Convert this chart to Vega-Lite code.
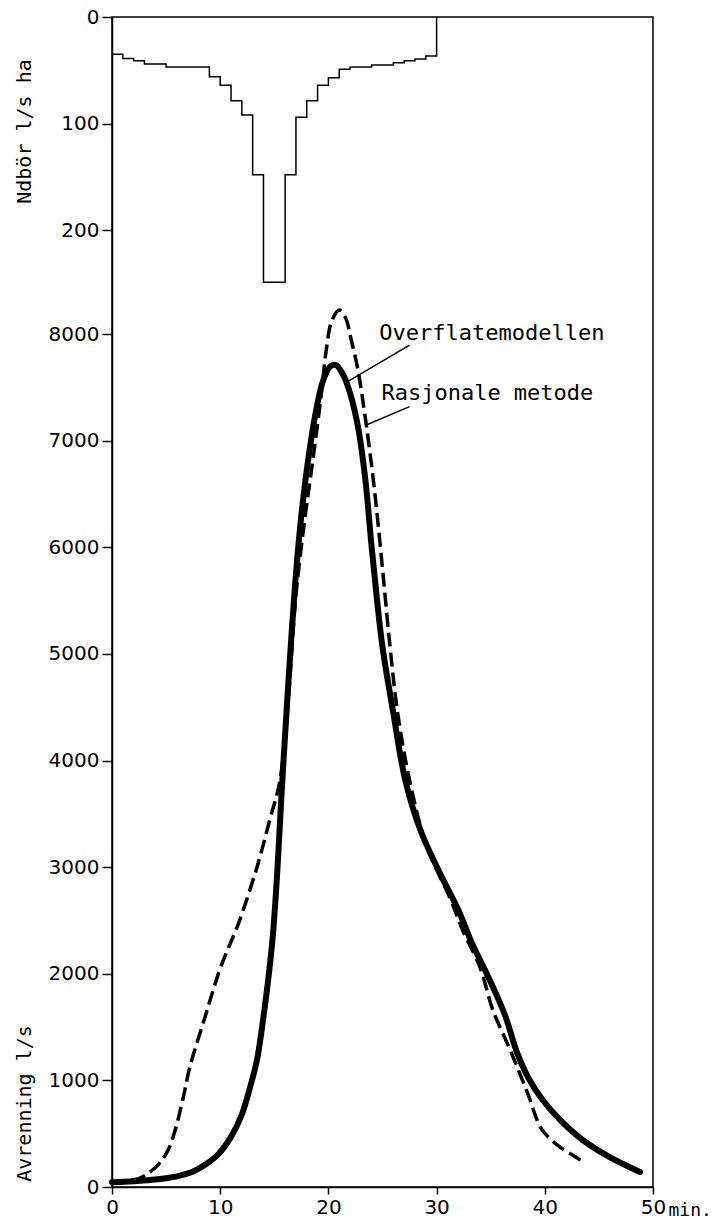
{
  "$schema": "https://vega.github.io/schema/vega-lite/v6.json",
  "autosize": "none",
  "width": 541,
  "height": 1170,
  "padding": {"left": 112, "top": 17, "right": 66, "bottom": 38},
  "background": "white",
  "config": {
    "view": {"stroke": "black", "strokeWidth": 1.5},
    "axis": {
      "grid": false,
      "domainColor": "black",
      "domainWidth": 1.5,
      "tickColor": "black",
      "tickWidth": 1.5,
      "labelColor": "black",
      "titleColor": "black",
      "labelFont": "DejaVu Sans",
      "labelFontSize": 20,
      "titleFont": "DejaVu Sans Mono",
      "titleFontSize": 20,
      "titleFontWeight": "normal"
    }
  },
  "datasets": {
    "rain": [
      {"t": 0, "r": 35},
      {"t": 1, "r": 39},
      {"t": 2, "r": 41},
      {"t": 3, "r": 44},
      {"t": 5, "r": 47},
      {"t": 9, "r": 56},
      {"t": 10, "r": 64},
      {"t": 11, "r": 78.5},
      {"t": 12, "r": 92},
      {"t": 13, "r": 148},
      {"t": 14, "r": 249},
      {"t": 16, "r": 148},
      {"t": 17, "r": 94},
      {"t": 18, "r": 78.5},
      {"t": 19, "r": 64},
      {"t": 20, "r": 57},
      {"t": 21, "r": 49},
      {"t": 22, "r": 47},
      {"t": 24, "r": 45},
      {"t": 26, "r": 43},
      {"t": 27, "r": 41},
      {"t": 28, "r": 39.5},
      {"t": 29, "r": 36.5},
      {"t": 30, "r": 0}
    ],
    "runoff": [
      {"model": "Overflatemodellen", "t": 0, "q": 45},
      {"model": "Overflatemodellen", "t": 2, "q": 55},
      {"model": "Overflatemodellen", "t": 4, "q": 70},
      {"model": "Overflatemodellen", "t": 6, "q": 100},
      {"model": "Overflatemodellen", "t": 7.5, "q": 145},
      {"model": "Overflatemodellen", "t": 8.7, "q": 215},
      {"model": "Overflatemodellen", "t": 9.8, "q": 305},
      {"model": "Overflatemodellen", "t": 11.0, "q": 470},
      {"model": "Overflatemodellen", "t": 12.0, "q": 680},
      {"model": "Overflatemodellen", "t": 12.8, "q": 950},
      {"model": "Overflatemodellen", "t": 13.4, "q": 1191},
      {"model": "Overflatemodellen", "t": 14.0, "q": 1595},
      {"model": "Overflatemodellen", "t": 14.5, "q": 2000},
      {"model": "Overflatemodellen", "t": 14.9, "q": 2400},
      {"model": "Overflatemodellen", "t": 15.3, "q": 3000},
      {"model": "Overflatemodellen", "t": 15.6, "q": 3564},
      {"model": "Overflatemodellen", "t": 16.1, "q": 4409},
      {"model": "Overflatemodellen", "t": 16.6, "q": 5197},
      {"model": "Overflatemodellen", "t": 17.0, "q": 5750},
      {"model": "Overflatemodellen", "t": 17.5, "q": 6300},
      {"model": "Overflatemodellen", "t": 18.1, "q": 6800},
      {"model": "Overflatemodellen", "t": 18.8, "q": 7250},
      {"model": "Overflatemodellen", "t": 19.5, "q": 7560},
      {"model": "Overflatemodellen", "t": 20.2, "q": 7700},
      {"model": "Overflatemodellen", "t": 20.7, "q": 7710},
      {"model": "Overflatemodellen", "t": 21.3, "q": 7630},
      {"model": "Overflatemodellen", "t": 21.9, "q": 7480},
      {"model": "Overflatemodellen", "t": 22.7, "q": 7150},
      {"model": "Overflatemodellen", "t": 23.4, "q": 6650},
      {"model": "Overflatemodellen", "t": 24.0, "q": 6000},
      {"model": "Overflatemodellen", "t": 24.5, "q": 5500},
      {"model": "Overflatemodellen", "t": 25.0, "q": 5065},
      {"model": "Overflatemodellen", "t": 26.0, "q": 4446},
      {"model": "Overflatemodellen", "t": 27.1, "q": 3818},
      {"model": "Overflatemodellen", "t": 28.5, "q": 3349},
      {"model": "Overflatemodellen", "t": 30.3, "q": 2945},
      {"model": "Overflatemodellen", "t": 32.0, "q": 2600},
      {"model": "Overflatemodellen", "t": 33.3, "q": 2280},
      {"model": "Overflatemodellen", "t": 34.5, "q": 2030},
      {"model": "Overflatemodellen", "t": 35.5, "q": 1810},
      {"model": "Overflatemodellen", "t": 36.4, "q": 1590},
      {"model": "Overflatemodellen", "t": 37.4, "q": 1270},
      {"model": "Overflatemodellen", "t": 38.5, "q": 1020},
      {"model": "Overflatemodellen", "t": 39.8, "q": 816},
      {"model": "Overflatemodellen", "t": 41.5, "q": 620},
      {"model": "Overflatemodellen", "t": 43.5, "q": 441},
      {"model": "Overflatemodellen", "t": 46.0, "q": 280},
      {"model": "Overflatemodellen", "t": 48.8, "q": 141},
      {"model": "Rasjonale metode", "t": 0, "q": 45},
      {"model": "Rasjonale metode", "t": 2.5, "q": 80},
      {"model": "Rasjonale metode", "t": 3.5, "q": 140},
      {"model": "Rasjonale metode", "t": 4.4, "q": 225},
      {"model": "Rasjonale metode", "t": 5.2, "q": 350},
      {"model": "Rasjonale metode", "t": 5.8, "q": 520},
      {"model": "Rasjonale metode", "t": 6.5, "q": 800},
      {"model": "Rasjonale metode", "t": 7.2, "q": 1126},
      {"model": "Rasjonale metode", "t": 8.6, "q": 1595},
      {"model": "Rasjonale metode", "t": 10.0, "q": 2050},
      {"model": "Rasjonale metode", "t": 11.7, "q": 2476},
      {"model": "Rasjonale metode", "t": 13.4, "q": 3000},
      {"model": "Rasjonale metode", "t": 14.6, "q": 3450},
      {"model": "Rasjonale metode", "t": 15.4, "q": 3750},
      {"model": "Rasjonale metode", "t": 15.9, "q": 4100},
      {"model": "Rasjonale metode", "t": 16.3, "q": 4568},
      {"model": "Rasjonale metode", "t": 17.0, "q": 5550},
      {"model": "Rasjonale metode", "t": 17.8, "q": 6250},
      {"model": "Rasjonale metode", "t": 18.6, "q": 6848},
      {"model": "Rasjonale metode", "t": 19.3, "q": 7400},
      {"model": "Rasjonale metode", "t": 19.8, "q": 7850},
      {"model": "Rasjonale metode", "t": 20.3, "q": 8120},
      {"model": "Rasjonale metode", "t": 21.0, "q": 8226},
      {"model": "Rasjonale metode", "t": 21.6, "q": 8150},
      {"model": "Rasjonale metode", "t": 22.1, "q": 7950},
      {"model": "Rasjonale metode", "t": 22.7, "q": 7680},
      {"model": "Rasjonale metode", "t": 23.5, "q": 7150},
      {"model": "Rasjonale metode", "t": 24.3, "q": 6500},
      {"model": "Rasjonale metode", "t": 25.0, "q": 5800},
      {"model": "Rasjonale metode", "t": 25.7, "q": 5065},
      {"model": "Rasjonale metode", "t": 26.4, "q": 4446},
      {"model": "Rasjonale metode", "t": 27.5, "q": 3818},
      {"model": "Rasjonale metode", "t": 29.1, "q": 3189},
      {"model": "Rasjonale metode", "t": 31.2, "q": 2720},
      {"model": "Rasjonale metode", "t": 32.4, "q": 2411},
      {"model": "Rasjonale metode", "t": 34.0, "q": 2064},
      {"model": "Rasjonale metode", "t": 35.2, "q": 1660},
      {"model": "Rasjonale metode", "t": 36.8, "q": 1285},
      {"model": "Rasjonale metode", "t": 38.4, "q": 882},
      {"model": "Rasjonale metode", "t": 39.6, "q": 560},
      {"model": "Rasjonale metode", "t": 40.5, "q": 450},
      {"model": "Rasjonale metode", "t": 41.4, "q": 375},
      {"model": "Rasjonale metode", "t": 43.3, "q": 253}
    ],
    "labels": [
      {"text": "Overflatemodellen", "t": 24.7, "q": 7945},
      {"text": "Rasjonale metode", "t": 24.9, "q": 7382}
    ],
    "leaders": [
      {"t": 27.5, "q": 7898, "t2": 21.85, "q2": 7560},
      {"t": 27.5, "q": 7320, "t2": 23.5, "q2": 7148}
    ]
  },
  "layer": [
    {
      "data": {"name": "rain"},
      "mark": {"type": "line", "interpolate": "step-after", "color": "black", "strokeWidth": 1.5},
      "encoding": {
        "x": {
          "field": "t", "type": "quantitative",
          "scale": {"domain": [0, 50], "nice": false, "zero": false},
          "axis": {
            "values": [0, 10, 20, 30, 40, 50],
            "tickSize": 7,
            "labelPadding": 3,
            "labelFlush": false,
            "title": "min.",
            "titleFont": "DejaVu Sans Mono",
            "titleFontSize": 18,
            "titleAnchor": "start",
            "titleAlign": "left",
            "titleBaseline": "alphabetic",
            "titleX": 556,
            "titleY": 28
          }
        },
        "y": {
          "field": "r", "type": "quantitative",
          "scale": {"domain": [0, 1098], "reverse": true, "nice": false, "zero": false},
          "axis": {
            "orient": "left",
            "values": [0, 100, 200],
            "format": "d",
            "tickSize": 10,
            "labelPadding": 3,
            "labelFlush": false,
            "domain": false,
            "title": "Ndbör l/s ha",
            "titleAngle": -90,
            "titleAlign": "center",
            "titleBaseline": "middle",
            "titleX": -88,
            "titleY": 114
          }
        }
      }
    },
    {
      "data": {"name": "runoff"},
      "layer": [
        {
          "transform": [{"filter": "datum.model === 'Overflatemodellen'"}],
          "mark": {"type": "line", "interpolate": "catmull-rom", "color": "black", "strokeWidth": 6, "strokeCap": "round"},
          "encoding": {
            "x": {"field": "t", "type": "quantitative"},
            "y": {
              "field": "q", "type": "quantitative",
              "scale": {"domain": [0, 10975], "nice": false, "zero": false},
              "axis": {
                "orient": "left",
                "values": [0, 1000, 2000, 3000, 4000, 5000, 6000, 7000, 8000],
                "format": "d",
                "tickSize": 10,
                "labelPadding": 3,
                "labelFlush": false,
                "title": "Avrenning l/s",
                "titleAngle": -90,
                "titleAlign": "center",
                "titleBaseline": "middle",
                "titleX": -88,
                "titleY": 1086
              }
            }
          }
        },
        {
          "transform": [{"filter": "datum.model === 'Rasjonale metode'"}],
          "mark": {"type": "line", "interpolate": "catmull-rom", "color": "black", "strokeWidth": 3.5, "strokeDash": [14, 6]},
          "encoding": {
            "x": {"field": "t", "type": "quantitative"},
            "y": {"field": "q", "type": "quantitative"}
          }
        },
        {
          "data": {"name": "leaders"},
          "mark": {"type": "rule", "color": "black", "strokeWidth": 1.5},
          "encoding": {
            "x": {"field": "t", "type": "quantitative"},
            "y": {"field": "q", "type": "quantitative"},
            "x2": {"field": "t2"},
            "y2": {"field": "q2"}
          }
        },
        {
          "data": {"name": "labels"},
          "mark": {"type": "text", "align": "left", "baseline": "alphabetic", "font": "DejaVu Sans Mono", "fontSize": 22, "color": "black"},
          "encoding": {
            "x": {"field": "t", "type": "quantitative"},
            "y": {"field": "q", "type": "quantitative"},
            "text": {"field": "text"}
          }
        }
      ]
    }
  ],
  "resolve": {"scale": {"y": "independent"}}
}
